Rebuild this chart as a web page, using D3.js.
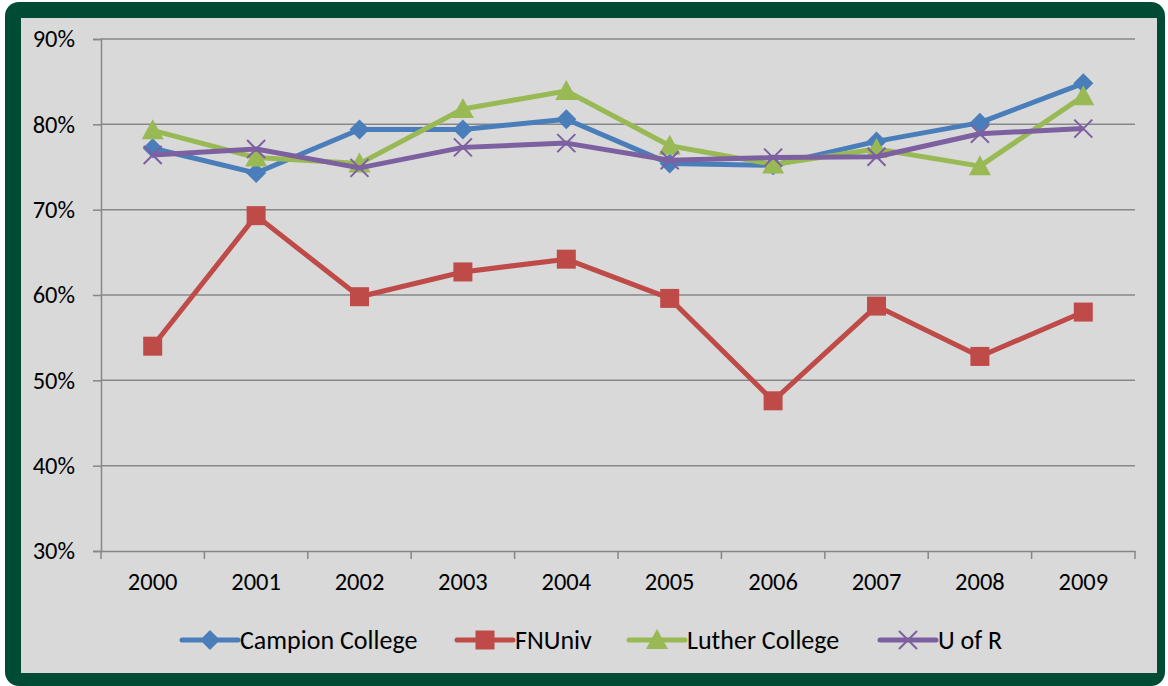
<!DOCTYPE html>
<html><head><meta charset="utf-8">
<script src="https://cdn.jsdelivr.net/npm/d3@7/dist/d3.min.js"></script>
<style>html,body{margin:0;padding:0;background:#fff;}svg{display:block;}</style>
</head><body><svg id="c" width="1168" height="686"></svg>
<script>
const years = ["2000","2001","2002","2003","2004","2005","2006","2007","2008","2009"];
const yTicks = [30,40,50,60,70,80,90];
const seriesNames = ["Campion College","FNUniv","Luther College","U of R"];
const campion = [77.2,74.3,79.4,79.4,80.6,75.4,75.2,78.0,80.2,84.8];
const fnuniv  = [54.0,69.3,59.8,62.7,64.2,59.6,47.6,58.7,52.8,58.0];
const luther  = [79.3,76.1,75.4,81.8,83.9,77.5,75.3,77.1,75.1,83.3];
const uofr    = [76.4,77.1,74.9,77.3,77.8,75.8,76.1,76.2,78.9,79.5];
const colors = ["#4a7ebb","#be4b48","#98b954","#7d60a0"];
const markers = ["diamond","square","triangle","x"];

const svg = d3.select("#c");
const font = "Carlito, Calibri, Lato, 'Open Sans', sans-serif";
// frame
svg.append("rect").attr("x",5).attr("y",2).attr("width",1160).attr("height",684).attr("rx",14).attr("fill","#004b33");
svg.append("rect").attr("x",21).attr("y",18).attr("width",1136).attr("height",655).attr("fill","#d9d9d9");

const L=101,R=1135,T=39,B=551;
const x = d3.scaleBand().domain(years).range([L,R]);
const y = d3.scaleLinear().domain([30,90]).range([B,T]);

// gridlines
svg.append("g").selectAll("line").data(yTicks.slice(1)).join("line")
  .attr("x1",L).attr("x2",R).attr("y1",d=>y(d)).attr("y2",d=>y(d))
  .attr("stroke","#878787").attr("stroke-width",1.5);

// y axis
const ya = svg.append("g").attr("transform",`translate(${L},0)`)
  .call(d3.axisLeft(y).tickValues(yTicks).tickSize(8).tickPadding(18).tickFormat(d=>d+"%"));
ya.select(".domain").attr("stroke","#878787").attr("stroke-width",1.5);
ya.selectAll(".tick line").attr("stroke","#878787").attr("stroke-width",1.5);
ya.selectAll("text").attr("font-family",font).attr("font-size",24.5).attr("fill","#000");

// x axis
const xa = svg.append("g").attr("transform",`translate(0,${B})`)
  .call(d3.axisBottom(x).tickSize(0).tickPadding(22));
xa.select(".domain").attr("stroke","#878787").attr("stroke-width",1.5);
xa.selectAll("text").attr("font-family",font).attr("font-size",24.5).attr("fill","#000");
// category boundary ticks
const bounds = years.map(d=>x(d)).concat([R]);
xa.append("g").selectAll("line").data(bounds).join("line")
  .attr("x1",d=>d).attr("x2",d=>d).attr("y1",0).attr("y2",8)
  .attr("stroke","#878787").attr("stroke-width",1.5);

function markerPath(type){
  switch(type){
    case "diamond": return "M0,-10L10,0L0,10L-10,0Z";
    case "square": return "M-9.5,-9.5H9.5V9.5H-9.5Z";
    case "triangle": return "M0,-11L11,9H-11Z";
    case "x": return "M-9,-9L9,9M-9,9L9,-9";
  }
}
function drawMarker(g,type,color){
  if(type==="x") g.append("path").attr("d",markerPath(type)).attr("fill","none").attr("stroke",color).attr("stroke-width",2);
  else g.append("path").attr("d",markerPath(type)).attr("fill",color);
}

const all = [campion,fnuniv,luther,uofr];
const cx = d=>x(d)+x.bandwidth()/2;
const line = d3.line().x((d,i)=>cx(years[i])).y(d=>y(d));
all.forEach((vals,si)=>{
  const g = svg.append("g");
  g.append("path").datum(vals).attr("d",line).attr("fill","none")
    .attr("stroke",colors[si]).attr("stroke-width",5).attr("stroke-linejoin","round");
  vals.forEach((v,i)=>{
    const m = g.append("g").attr("transform",`translate(${cx(years[i])},${y(v)})`);
    drawMarker(m,markers[si],colors[si]);
  });
});

// legend
const legX = [182,457,629,880];
const legY = 640;
seriesNames.forEach((n,i)=>{
  const g = svg.append("g").attr("transform",`translate(${legX[i]},${legY})`);
  g.append("line").attr("x1",0).attr("x2",56).attr("y1",0).attr("y2",0)
    .attr("stroke",colors[i]).attr("stroke-width",5).attr("stroke-linecap","round");
  const m = g.append("g").attr("transform","translate(28,0)");
  drawMarker(m,markers[i],colors[i]);
  g.append("text").attr("x",58).attr("y",9).attr("font-family",font).attr("font-size",26).attr("fill","#000").text(n);
});
</script></body></html>
